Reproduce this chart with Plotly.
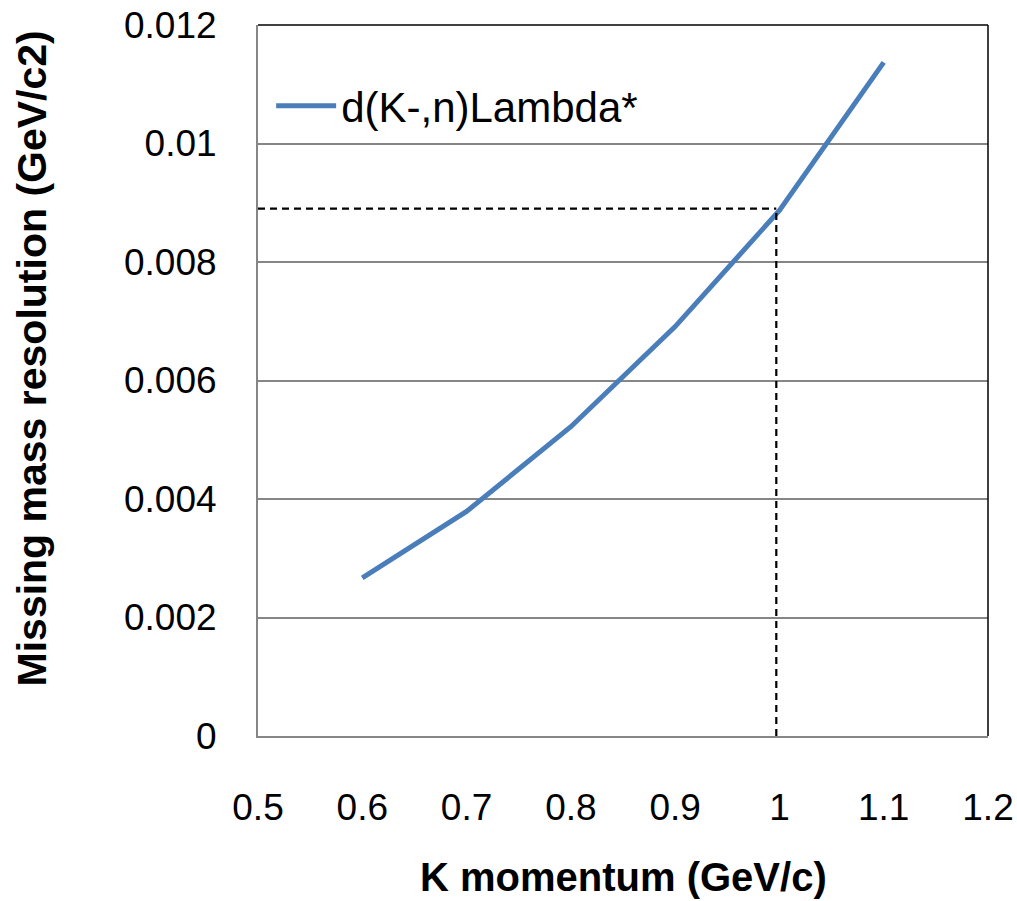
import plotly.graph_objects as go

# ---- data ----
k_momentum = [0.6, 0.7, 0.8, 0.9, 1.0, 1.1]
mass_resolution = [0.00267, 0.00379, 0.00522, 0.00691, 0.00887, 0.01137]
series_name = "d(K-,n)Lambda*"

x_ticks = [0.5, 0.6, 0.7, 0.8, 0.9, 1.0, 1.1, 1.2]
x_ticktext = ["0.5", "0.6", "0.7", "0.8", "0.9", "1", "1.1", "1.2"]
y_ticks = [0, 0.002, 0.004, 0.006, 0.008, 0.010, 0.012]
y_ticktext = ["0", "0.002", "0.004", "0.006", "0.008", "0.01", "0.012"]

ref_x = 0.997      # marked momentum
ref_y = 0.0089     # corresponding resolution

x_title = "K momentum (GeV/c)"
y_title = "Missing mass resolution (GeV/c2)"

FONT = "Liberation Sans, Arial, sans-serif"
AXIS_GRAY = "#868686"

fig = go.Figure()
fig.add_trace(go.Scatter(
    x=k_momentum, y=mass_resolution, mode="lines", name=series_name,
    line=dict(color="#4A7EBB", width=5),
))

# reference dashed lines
fig.add_shape(type="line", xref="x", yref="y", x0=x_ticks[0], x1=ref_x, y0=ref_y, y1=ref_y,
              line=dict(color="black", width=2.2, dash="7px,5px"))
fig.add_shape(type="line", xref="x", yref="y", x0=ref_x, x1=ref_x, y0=y_ticks[0], y1=ref_y,
              line=dict(color="black", width=2.2, dash="7px,5px"))
# top and right frame
fig.add_shape(type="line", xref="paper", yref="paper", x0=0, x1=1, y0=1, y1=1,
              line=dict(color="black", width=1.5))
fig.add_shape(type="line", xref="paper", yref="paper", x0=1, x1=1, y0=0, y1=1,
              line=dict(color="black", width=1.5))

fig.add_annotation(text="<b>" + x_title + "</b>", xref="paper", yref="paper",
                   x=0.5, y=-0.198, xanchor="center", yanchor="middle", showarrow=False,
                   font=dict(family=FONT, size=40, color="black"))
fig.add_annotation(text="<b>" + y_title + "</b>", xref="paper", yref="paper",
                   x=-0.309, y=0.5316, xanchor="center", yanchor="middle", showarrow=False,
                   textangle=-90, font=dict(family=FONT, size=41, color="black"))

fig.update_layout(
    width=1017, height=901,
    margin=dict(l=258, r=29, t=25, b=165, autoexpand=False),
    paper_bgcolor="white", plot_bgcolor="white",
    font=dict(family=FONT, color="black"),
    showlegend=True,
    legend=dict(x=0.018, y=0.886, xanchor="left", yanchor="middle",
                bgcolor="rgba(0,0,0,0)", font=dict(family=FONT, size=42, color="black"),
                itemwidth=60),
    xaxis=dict(range=[x_ticks[0], x_ticks[-1]], tickvals=x_ticks, ticktext=x_ticktext,
               showgrid=False, zeroline=False, showline=True, linecolor=AXIS_GRAY, linewidth=2,
               ticks="outside", ticklen=38, tickcolor="rgba(0,0,0,0)", automargin=False,
               tickfont=dict(family=FONT, size=37, color="black")),
    yaxis=dict(range=[y_ticks[0], y_ticks[-1]], tickvals=y_ticks, ticktext=y_ticktext,
               showgrid=True, gridcolor=AXIS_GRAY, gridwidth=1.5, zeroline=False,
               showline=True, linecolor=AXIS_GRAY, linewidth=2, automargin=False,
               ticks="outside", ticklen=32, tickcolor="rgba(0,0,0,0)",
               tickfont=dict(family=FONT, size=37, color="black")),
)

fig.write_html("out.html", config={"displayModeBar": False},
               post_script="document.body.style.margin='0';document.body.style.overflow='hidden';")
